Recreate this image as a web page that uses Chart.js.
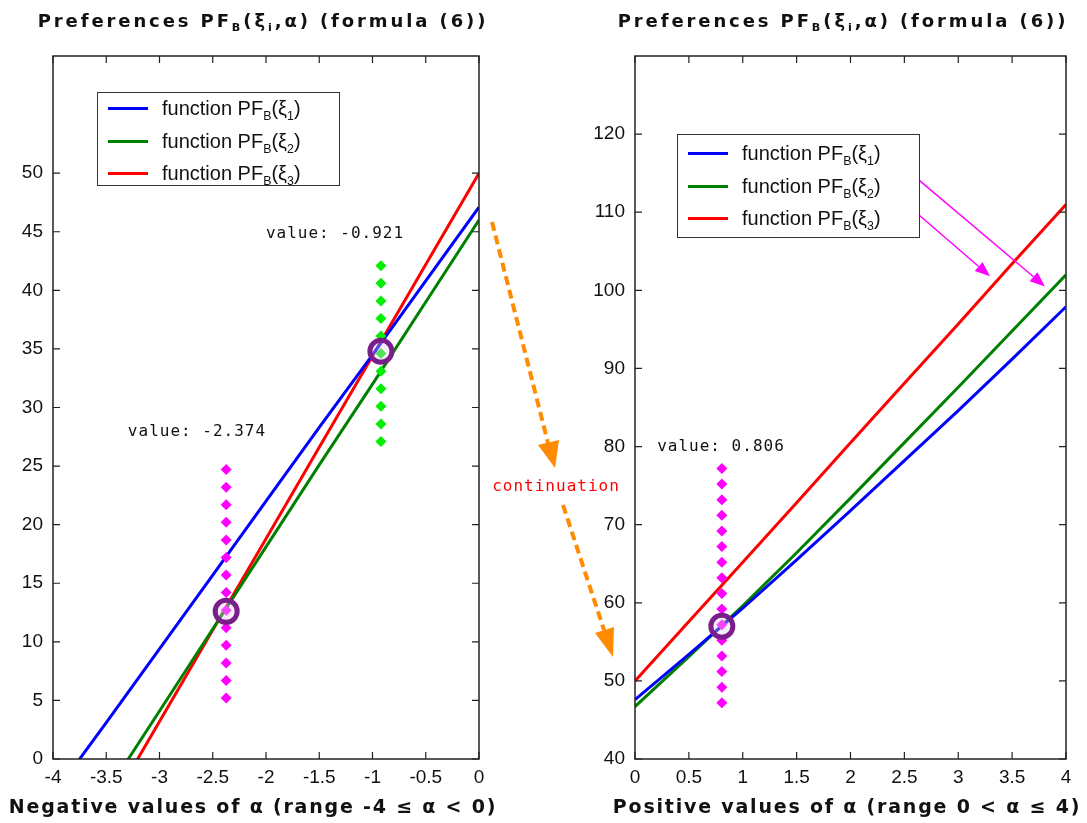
<!DOCTYPE html>
<html>
<head>
<meta charset="utf-8">
<script src="https://cdn.jsdelivr.net/npm/chart.js@4/dist/chart.umd.min.js"></script>
<style>
  html, body { margin: 0; padding: 0; background: #fff; }
  #page { position: relative; width: 1087px; height: 823px; overflow: hidden; background: #fff; }
  canvas { position: absolute; top: 0; }
  .title, .axis-title {
    position: absolute; white-space: nowrap; color: #111;
    font-family: "DejaVu Sans", sans-serif; font-weight: bold;
    transform: translate(-50%, -50%);
  }
  .title { font-size: 18px; letter-spacing: 2.9px; }
  .axis-title { font-size: 19px; letter-spacing: 1.8px; }
  .title sub, .legend sub { font-size: 62%; }
  .legend {
    position: absolute; background: #fff; border: 1.5px solid #333; box-sizing: border-box;
    font-family: "Liberation Sans", Arial, sans-serif; font-size: 20px; color: #111;
  }
  .legend .row { position: absolute; left: 0; height: 30px; line-height: 30px; white-space: nowrap; }
  .legend .swatch { position: absolute; left: 10px; top: 14px; width: 40px; height: 3px; }
  .legend .txt { position: absolute; left: 64px; top: 0; }
  .note {
    position: absolute; white-space: nowrap; transform: translate(-50%, -50%);
    font-family: "DejaVu Sans Mono", monospace; font-size: 16px; letter-spacing: 1px;
  }
  svg { position: absolute; left: 0; top: 0; pointer-events: none; }
</style>
</head>
<body>
<div id="page">
  <canvas id="left" width="540" height="823" style="left:0"></canvas>
  <canvas id="right" width="542" height="823" style="left:545px"></canvas>

  <div class="title" style="left:263px; top:22px">Preferences PF<sub>B</sub>(ξ<sub>i</sub>,α) (formula (6))</div>
  <div class="title" style="left:843px; top:22px">Preferences PF<sub>B</sub>(ξ<sub>i</sub>,α) (formula (6))</div>
  <div class="axis-title" style="left:253px; top:806px">Negative values of α (range -4 ≤ α &lt; 0)</div>
  <div class="axis-title" style="left:847px; top:806px">Positive values of α (range 0 &lt; α ≤ 4)</div>

  <div class="legend" id="legendLeft" style="left:97px; top:92px; width:243px; height:94px"></div>
  <div class="legend" id="legendRight" style="left:677px; top:134px; width:243px; height:104px"></div>

  <div class="note" style="left:556px; top:485px; color:#ff0000">continuation</div>

  <svg width="1087" height="823">
    <g stroke="#ff8c00" stroke-width="4" stroke-dasharray="9 5" fill="none">
      <line x1="492" y1="222" x2="548" y2="443"/>
      <line x1="563" y1="505" x2="604" y2="630"/>
    </g>
    <g fill="#ff8c00">
      <polygon points="555,468 559,440 538,445"/>
      <polygon points="613,657 614,627 595,633"/>
    </g>
  </svg>
</div>

<script>
  // negative alpha panel
  const alphaNeg = [-4, -3.5, -3, -2.5, -2, -1.5, -1, -0.5, 0];
  const negXi1 = [-3.1, 3.1, 9.4, 15.7, 22.0, 28.3, 34.5, 40.8, 47.1];
  const negXi2 = [-9.8, -2.9, 4.1, 11.1, 18.1, 25.1, 32.0, 39.0, 46.0];
  const negXi3 = [-12.4, -4.6, 3.2, 11.0, 18.8, 26.6, 34.4, 42.2, 50.0];
  const negXTicks = [-4, -3.5, -3, -2.5, -2, -1.5, -1, -0.5, 0];
  const negYTicks = [0, 5, 10, 15, 20, 25, 30, 35, 40, 45, 50];

  // positive alpha panel
  const alphaPos = [0, 0.5, 1, 1.5, 2, 2.5, 3, 3.5, 4];
  const posXi1 = [47.6, 53.4, 59.3, 65.5, 71.8, 78.2, 84.6, 91.2, 97.9];
  const posXi2 = [46.7, 53.1, 59.6, 66.4, 73.4, 80.5, 87.6, 94.8, 102.0];
  const posXi3 = [50.0, 57.6, 65.2, 72.8, 80.5, 88.1, 95.7, 103.4, 111.0];
  const posXTicks = [0, 0.5, 1, 1.5, 2, 2.5, 3, 3.5, 4];
  const posYTicks = [40, 50, 60, 70, 80, 90, 100, 110, 120];

  // marked crossing points and dotted guides
  const cutNegA = -2.374, cutNegB = -0.921, cutPos = 0.806;
  const guideNegA = [5.2, 6.7, 8.2, 9.7, 11.2, 12.7, 14.2, 15.7, 17.2, 18.7, 20.2, 21.7, 23.2, 24.7];
  const guideNegB = [27.1, 28.6, 30.1, 31.6, 33.1, 34.6, 36.1, 37.6, 39.1, 40.6, 42.1];
  const guidePos = [47.2, 49.2, 51.2, 53.2, 55.2, 57.2, 59.2, 61.2, 63.2, 65.2, 67.2, 69.2, 71.2, 73.2, 75.2, 77.2];
  const hitNegA = 12.6, hitNegB = 34.8, hitPos = 57.0;

  const seriesNames = ["ξ1", "ξ2", "ξ3"];
  const seriesColors = ["#0000ff", "#008000", "#ff0000"];

  function pts(xs, ys) { return xs.map((x, i) => ({ x, y: ys[i] })); }

  function lineSet(xs, ys, i) {
    return { type: "line", label: seriesNames[i], data: pts(xs, ys), borderColor: seriesColors[i],
      borderWidth: 3, pointRadius: 0, tension: 0, order: 3 };
  }
  function guideSet(x, ys, color) {
    return { type: "scatter", data: ys.map((y) => ({ x, y })), pointStyle: "rectRot", pointRadius: 5.5,
      backgroundColor: color, borderColor: color, borderWidth: 0, order: 2 };
  }
  function ringSet(x, y) {
    return { type: "scatter", data: [{ x, y }], pointStyle: "circle", pointRadius: 11,
      backgroundColor: "rgba(230,200,240,0.35)", borderColor: "#7a1f8a", borderWidth: 5, order: 1 };
  }

  const framePlugin = {
    id: "frame",
    afterDraw(chart) {
      const { ctx, chartArea: a, scales } = chart;
      ctx.save();
      ctx.strokeStyle = "#222";
      ctx.lineWidth = 1.5;
      ctx.strokeRect(a.left, a.top, a.right - a.left, a.bottom - a.top);
      ctx.lineWidth = 1.2;
      ctx.beginPath();
      scales.x.ticks.forEach((t) => {
        const p = scales.x.getPixelForValue(t.value);
        ctx.moveTo(p, a.bottom); ctx.lineTo(p, a.bottom - 7);
        ctx.moveTo(p, a.top); ctx.lineTo(p, a.top + 7);
      });
      scales.y.ticks.forEach((t) => {
        const p = scales.y.getPixelForValue(t.value);
        ctx.moveTo(a.left, p); ctx.lineTo(a.left + 7, p);
        ctx.moveTo(a.right, p); ctx.lineTo(a.right - 7, p);
      });
      ctx.stroke();
      ctx.restore();
    },
  };

  const notesPlugin = {
    id: "notes",
    afterDatasetsDraw(chart) {
      const opts = chart.options.plugins.notes || {};
      const { ctx, scales } = chart;
      const X = (v) => scales.x.getPixelForValue(v), Y = (v) => scales.y.getPixelForValue(v);
      ctx.save();
      (opts.arrows || []).forEach((ar) => {
        const x1 = X(ar.x1), y1 = Y(ar.y1), x2 = X(ar.x2), y2 = Y(ar.y2);
        const ang = Math.atan2(y2 - y1, x2 - x1), len = 15, w = 6;
        const bx = x2 - len * Math.cos(ang), by = y2 - len * Math.sin(ang);
        ctx.strokeStyle = "#ff00ff"; ctx.fillStyle = "#ff00ff"; ctx.lineWidth = 1.5;
        ctx.beginPath(); ctx.moveTo(x1, y1); ctx.lineTo(bx, by); ctx.stroke();
        ctx.beginPath();
        ctx.moveTo(x2, y2);
        ctx.lineTo(bx + w * Math.sin(ang), by - w * Math.cos(ang));
        ctx.lineTo(bx - w * Math.sin(ang), by + w * Math.cos(ang));
        ctx.closePath(); ctx.fill();
      });
      ctx.font = '16px "DejaVu Sans Mono", monospace';
      ctx.letterSpacing = "1px";
      ctx.fillStyle = "#111";
      ctx.textAlign = "center";
      ctx.textBaseline = "middle";
      (opts.labels || []).forEach((l) => ctx.fillText(l.text, X(l.x), Y(l.y)));
      ctx.restore();
    },
  };

  const tickFont = { family: "'Liberation Sans', Arial, sans-serif", size: 19 };

  function makeChart(id, datasets, xr, yr, xTicks, yTicks, yWidth, pad, notes) {
    return new Chart(document.getElementById(id), {
      data: { datasets },
      options: {
        responsive: false, animation: false, devicePixelRatio: 1,
        layout: { padding: pad },
        plugins: { legend: { display: false }, title: { display: false }, tooltip: { enabled: false }, notes },
        scales: {
          x: { type: "linear", min: xr[0], max: xr[1],
            afterBuildTicks: (s) => { s.ticks = xTicks.map((v) => ({ value: v })); },
            afterFit: (s) => { s.height = 64; },
            grid: { display: false, drawTicks: false }, border: { display: false },
            ticks: { font: tickFont, color: "#111", padding: 7, maxRotation: 0, autoSkip: false, callback: (v) => String(v) } },
          y: { type: "linear", min: yr[0], max: yr[1],
            afterBuildTicks: (s) => { s.ticks = yTicks.map((v) => ({ value: v })); },
            afterFit: (s) => { s.width = yWidth; },
            grid: { display: false, drawTicks: false }, border: { display: false },
            ticks: { font: tickFont, color: "#111", padding: 10, autoSkip: false, callback: (v) => String(v) } },
        },
      },
      plugins: [framePlugin, notesPlugin],
    });
  }

  makeChart("left", [
    lineSet(alphaNeg, negXi1, 0), lineSet(alphaNeg, negXi2, 1), lineSet(alphaNeg, negXi3, 2),
    guideSet(cutNegA, guideNegA, "#ff00ff"), guideSet(cutNegB, guideNegB, "#00ee00"),
    ringSet(cutNegA, hitNegA), ringSet(cutNegB, hitNegB),
  ], [-4, 0], [0, 60], negXTicks, negYTicks, 53, { top: 56, right: 61, left: 0, bottom: 0 }, {
    labels: [
      { x: -2.648, y: 27.9, text: "value: " + cutNegA },
      { x: -1.352, y: 44.8, text: "value: " + cutNegB },
    ],
  });

  makeChart("right", [
    lineSet(alphaPos, posXi1, 0), lineSet(alphaPos, posXi2, 1), lineSet(alphaPos, posXi3, 2),
    guideSet(cutPos, guidePos, "#ff00ff"),
    ringSet(cutPos, hitPos),
  ], [0, 4], [40, 130], posXTicks, posYTicks, 90, { top: 56, right: 21, left: 0, bottom: 0 }, {
    labels: [{ x: 0.798, y: 80.0, text: "value: " + cutPos }],
    arrows: [
      { x1: 2.636, y1: 114.1, x2: 3.805, y2: 100.5 },
      { x1: 2.636, y1: 109.65, x2: 3.295, y2: 101.8 },
    ],
  });

  // legends (HTML so the subscripts stay real text)
  function fillLegend(id, top0, step) {
    const box = document.getElementById(id);
    seriesNames.forEach((name, i) => {
      const row = document.createElement("div");
      row.className = "row";
      row.style.top = (top0 + i * step) + "px";
      row.innerHTML = `<span class="swatch" style="background:${seriesColors[i]}"></span>` +
        `<span class="txt">function PF<sub>B</sub>(ξ<sub>${i + 1}</sub>)</span>`;
      box.appendChild(row);
    });
  }
  fillLegend("legendLeft", 0, 32.5);
  fillLegend("legendRight", 3, 32.5);
</script>
</body>
</html>
